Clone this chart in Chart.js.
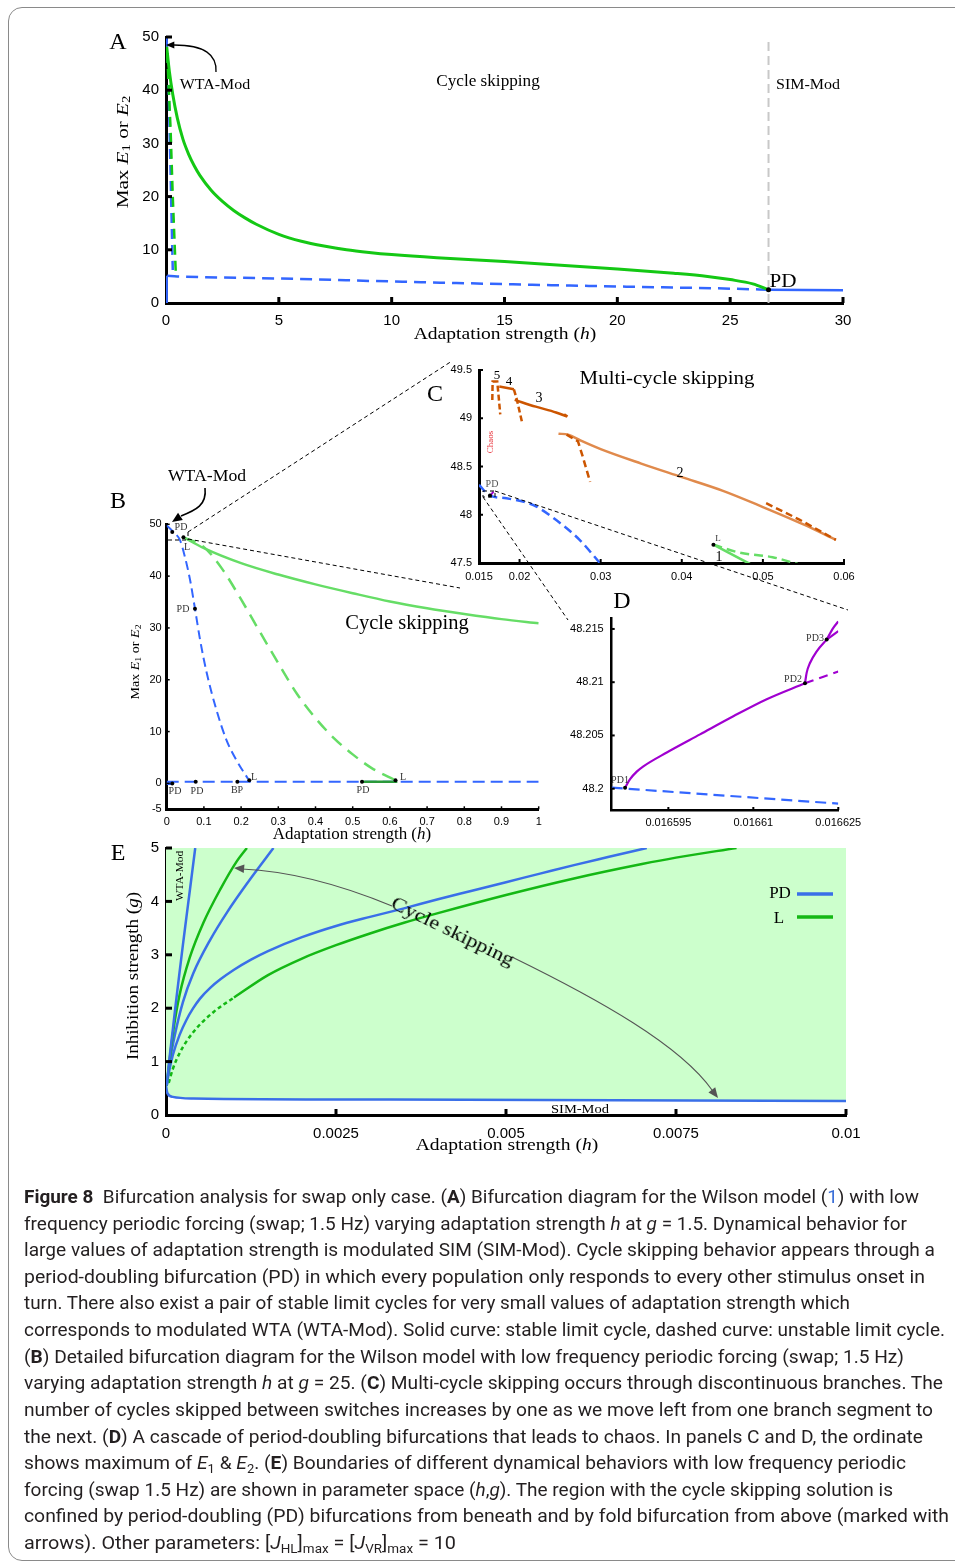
<!DOCTYPE html>
<html>
<head>
<meta charset="utf-8">
<script src="https://cdn.jsdelivr.net/npm/chart.js@4.4.0/dist/chart.umd.min.js"></script>
<style>
body { margin: 0; background: #fff; width: 955px; height: 1563px; overflow: hidden; position: relative; }
#frame { position: absolute; left: 8px; top: 7px; width: 975px; height: 1552px; border: 1px solid #8a8a8a; border-radius: 14px; }
canvas.panel { position: absolute; }
#overlay { position: absolute; left: 0; top: 0; pointer-events: none; }
.t { position: absolute; white-space: nowrap; line-height: 1; transform-origin: center center; }
.t sub { font-size: 70%; vertical-align: -0.25em; line-height: 0; }
.cap { position: absolute; left: 24px; height: 26px; line-height: 26px; white-space: nowrap; font-family: 'Liberation Sans Narrow', 'Roboto', sans-serif; font-size: 19px; color: #231f20; transform-origin: left center; }
.cap sub { font-size: 68%; vertical-align: -0.3em; line-height: 0; }
</style>
</head>
<body>
<div id="frame"></div>
<canvas id="chartA" class="panel" width="790" height="330" style="left:90px;top:20px"></canvas>
<canvas id="chartB" class="panel" width="470" height="335" style="left:100px;top:505px"></canvas>
<canvas id="chartC" class="panel" width="450" height="240" style="left:420px;top:350px"></canvas>
<canvas id="chartD" class="panel" width="330" height="230" style="left:545px;top:600px"></canvas>
<canvas id="chartE" class="panel" width="790" height="320" style="left:90px;top:830px"></canvas>
<canvas id="overlay" width="955" height="1563"></canvas>
<script>
// ---- panel A: h in [0,30], max E ----
const aTickX = [0, 5, 10, 15, 20, 25, 30];
const aTickY = [0, 10, 20, 30, 40, 50];
const aGreenSolid = [[0.03,48.2],[0.15,43.5],[0.3,39.2],[0.5,34.8],[0.75,30.8],[1,28.0],[1.25,25.8],[1.5,24.0],[2,21.2],[2.5,19.1],[3,17.4],[3.5,16.0],[4,14.8],[5,12.9],[6,11.6],[7,10.7],[8,10.0],[9,9.5],[10,9.1],[12,8.5],[15,7.8],[17.5,7.1],[20,6.4],[22.5,5.6],[24,5.0],[25,4.4],[26,3.6],[26.7,2.5]];
const aGreenDash = [[0.05,47],[0.2,33],[0.3,20],[0.44,4.9]];
const aBlueDashSteep = [[0.02,50],[0.1,44],[0.2,25],[0.3,6.2]];
const aBlueSolidAxis = [[0.03,0],[0.03,5.1]];
const aBlueDashLow = [[0.05,5.1],[0.5,5.0],[5,4.6],[10,4.05],[15,3.55],[20,3.1],[25,2.7],[26.7,2.5]];
const aBlueSolidRight = [[26.7,2.5],[30,2.4]];
const aGreyLine = [[26.7,0],[26.7,50]];
const aDots = [[26.7,2.5]];

// ---- panel B: h in [0,1] ----
const bTickX = [0, 0.1, 0.2, 0.3, 0.4, 0.5, 0.6, 0.7, 0.8, 0.9, 1];
const bTickY = [-5, 0, 10, 20, 30, 40, 50];
const bBlueDashMain = [[0,49.8],[0.018,48.5],[0.036,46.9],[0.049,43.7],[0.063,39.2],[0.076,33.7],[0.09,27.6],[0.108,21.2],[0.134,14.1],[0.161,8.3],[0.188,4.4],[0.219,0.85]];
const bBlueDashFlat = [[0,0.3],[1,0.3]];
const bBlueSolidStub = [[0,0],[0.015,0]];
const bGreenSolid = [[0.045,47.5],[0.1,45.4],[0.2,42.5],[0.3,40.3],[0.4,38.4],[0.5,36.7],[0.6,35.1],[0.7,33.8],[0.8,32.7],[0.9,31.7],[1,30.9]];
const bGreenDash = [[0.045,47.5],[0.1,45.6],[0.15,41.3],[0.2,35.5],[0.25,29.3],[0.3,23.2],[0.35,17.3],[0.4,12.6],[0.45,8.7],[0.5,5.6],[0.55,3.0],[0.615,0.6]];
const bGreenFlat = [[0.525,0.3],[0.62,0.3]];
const bDots = [[0.015,48.5],[0.045,47.5],[0.076,33.7],[0.015,0],[0.078,0.3],[0.19,0.3],[0.222,0.6],[0.525,0.3],[0.615,0.6]];

// ---- panel C: zoom of B ----
const cTickX = [0.015, 0.02, 0.03, 0.04, 0.05, 0.06];
const cTickY = [47.5, 48, 48.5, 49, 49.5];
const c5Dash = [[0.01664,49.19],[0.01668,49.38],[0.01725,49.38],[0.01745,49.2],[0.01762,49.04]];
const c4Solid = [[0.0175,49.33],[0.0193,49.30]];
const c4Dash = [[0.0193,49.30],[0.01965,49.2],[0.0203,48.96]];
const c3Solid = [[0.0194,49.19],[0.022,49.12],[0.0245,49.06],[0.0258,49.02]];
const c3Dash = [[0.0255,49.04],[0.0262,49.0]];
const c2Solid = [[0.0248,48.84],[0.026,48.83],[0.0275,48.77],[0.03,48.68],[0.035,48.53],[0.04,48.39],[0.045,48.25],[0.05,48.08],[0.055,47.9],[0.059,47.74]];
const c2DashA = [[0.0258,48.83],[0.0272,48.76],[0.0278,48.6],[0.0287,48.34]];
const c2DashB = [[0.0504,48.12],[0.0545,47.95],[0.059,47.74]];
const cBlueDash = [[0.015,48.31],[0.0163,48.2],[0.0184,48.17],[0.0217,48.1],[0.0246,47.94],[0.0274,47.74],[0.0299,47.5]];
const cGreenSolid = [[0.0439,47.69],[0.0484,47.49]];
const cGreenDash = [[0.0439,47.69],[0.047,47.61],[0.0512,47.56],[0.0543,47.49]];
const cPurple = [[0.0164,48.2],[0.0168,48.24]];
const cDots = [[0.01635,48.2],[0.0439,47.69]];

// ---- panel D: zoom of C ----
const dTickX = [0.016595, 0.01661, 0.016625];
const dTickXLabels = ['0.016595', '0.01661', '0.016625'];
const dTickY = [48.2, 48.205, 48.21, 48.215];
const dTickYLabels = ['48.2', '48.205', '48.21', '48.215'];
const dBlueDash = [[0.016585,48.2001],[0.016625,48.1986]];
const dPurpleSolid = [[0.01658736,48.2001],[0.01658824,48.2009],[0.01658942,48.2016],[0.01659059,48.2021],[0.01659472,48.2034],[0.01660059,48.2051],[0.01660647,48.2068],[0.01661236,48.2084],[0.01661912,48.2099]];
const dPurpleDash = [[0.01661912,48.2099],[0.016625,48.211]];
const dPurpleUp = [[0.01661912,48.2099],[0.01661942,48.2109],[0.01662,48.2118],[0.01662119,48.2129],[0.01662295,48.214]];
const dPurpleTop1 = [[0.01662295,48.214],[0.01662412,48.2151],[0.016625,48.2157]];
const dPurpleTop2 = [[0.01662295,48.214],[0.016625,48.2148]];
const dDots = [[0.01658736,48.2001],[0.01661912,48.2099],[0.01662295,48.214]];

// ---- panel E: (h, g) plane ----
const eTickX = [0, 0.0025, 0.005, 0.0075, 0.01];
const eTickXLabels = ['0', '0.0025', '0.005', '0.0075', '0.01'];
const eTickY = [0, 1, 2, 3, 4, 5];
const eBlueBottom = [[0,0.55],[0.00002,0.41],[0.0001,0.34],[0.0004,0.31],[0.0033,0.29],[0.01,0.26]];
const eBlueWTA = [[0.00001,0.55],[0.00005,1.05],[0.0001,1.6],[0.00015,2.15],[0.0002,2.68],[0.00025,3.2],[0.0003,3.7],[0.00035,4.2],[0.00043,5.0]];
const eGreenTop = [[0.00001,0.55],[0.00005,1.0],[0.00011,1.6],[0.0002,2.25],[0.00035,2.95],[0.00055,3.6],[0.0008,4.23],[0.00104,4.75],[0.00119,5.0]];
const eBlueMid = [[0.00001,0.55],[0.00005,0.95],[0.00013,1.5],[0.00025,2.12],[0.0004,2.65],[0.00065,3.28],[0.0009,3.8],[0.0012,4.35],[0.00158,5.0]];
const eBlueBig = [[0.00001,0.55],[0.00004,0.78],[0.0001,1.12],[0.0002,1.5],[0.0003,1.78],[0.0004,2.0],[0.0005,2.18],[0.00065,2.38],[0.0008,2.54],[0.001,2.72],[0.00125,2.91],[0.0015,3.07],[0.002,3.33],[0.0025,3.54],[0.003,3.71],[0.0035,3.87],[0.004,4.04],[0.0045,4.2],[0.005,4.36],[0.0055,4.52],[0.006,4.68],[0.0065,4.83],[0.00707,5.0]];
const eGreenBigDash = [[0.00004,0.6],[0.0001,0.86],[0.0002,1.16],[0.0004,1.55],[0.0007,1.93],[0.001,2.2]];
const eGreenBigSolid = [[0.001,2.2],[0.0015,2.62],[0.002,2.93],[0.0025,3.18],[0.003,3.4],[0.0035,3.6],[0.004,3.78],[0.005,4.12],[0.006,4.43],[0.007,4.7],[0.0075,4.82],[0.00839,5.0]];

const BLUE = '#3366ff';
const GREEN_A = '#14c814';
const GREEN_B = '#66dd66';
const ORANGE_D = '#cc5500';
const ORANGE_L = '#e08a4c';
const PURPLE = '#a000d0';
const E_BLUE = '#3a6fe8';
const E_GREEN = '#14b814';

function line(pts, color, width, dash, smooth) {
    return {
        data: pts.map(p => ({ x: p[0], y: p[1] })),
        showLine: true,
        borderColor: color,
        borderWidth: width,
        borderDash: dash || [],
        pointRadius: 0,
        cubicInterpolationMode: smooth ? 'monotone' : 'default',
        tension: 0,
        fill: false
    };
}

function dots(pts, r) {
    return {
        data: pts.map(p => ({ x: p[0], y: p[1] })),
        showLine: false,
        pointRadius: r || 2.2,
        pointBackgroundColor: '#000',
        pointBorderWidth: 0
    };
}

// short tick marks drawn on the inside of the axes
const innerTicks = {
    id: 'innerTicks',
    afterDraw(chart, args, opts) {
        const { ctx, chartArea: a, scales: { x, y } } = chart;
        ctx.save();
        ctx.strokeStyle = '#000';
        ctx.lineWidth = opts.width;
        x.ticks.forEach(t => {
            if (t.value === x.min) return;
            const px = x.getPixelForValue(t.value);
            ctx.beginPath(); ctx.moveTo(px, a.bottom); ctx.lineTo(px, a.bottom - opts.len); ctx.stroke();
        });
        y.ticks.forEach(t => {
            if (t.value === y.min) return;
            const py = y.getPixelForValue(t.value);
            ctx.beginPath(); ctx.moveTo(a.left, py); ctx.lineTo(a.left + opts.len, py); ctx.stroke();
        });
        ctx.restore();
    }
};

function panelChart(id, datasets, o) {
    const fmt = (labels) => (v, i) => labels ? labels[i] : String(v);
    return new Chart(document.getElementById(id), {
        type: 'scatter',
        data: { datasets },
        options: {
            responsive: false,
            animation: false,
            devicePixelRatio: 1,
            layout: { padding: { left: 0, top: o.top, right: o.right, bottom: 0 } },
            plugins: {
                legend: { display: false },
                tooltip: { enabled: false },
                innerTicks: { len: o.tickLen, width: o.tickW }
            },
            scales: {
                x: {
                    type: 'linear', min: o.xMin, max: o.xMax,
                    grid: { drawOnChartArea: false, drawTicks: false },
                    border: { color: '#000', width: o.axisW },
                    ticks: { font: { family: 'Liberation Sans', size: o.font }, color: '#000', padding: o.xPad, maxRotation: 0, autoSkip: false, callback: fmt(o.xLabels) },
                    afterBuildTicks: s => { s.ticks = o.xTicks.map(v => ({ value: v })); },
                    afterFit: s => { s.height = o.xH; s.paddingLeft = 0; s.paddingRight = 0; }
                },
                y: {
                    type: 'linear', min: o.yMin, max: o.yMax,
                    grid: { drawOnChartArea: false, drawTicks: false },
                    border: { color: '#000', width: o.axisW },
                    ticks: { font: { family: 'Liberation Sans', size: o.font }, color: '#000', padding: o.yPad, autoSkip: false, callback: fmt(o.yLabels) },
                    afterBuildTicks: s => { s.ticks = o.yTicks.map(v => ({ value: v })); },
                    afterFit: s => { s.width = o.yW; s.paddingTop = 0; s.paddingBottom = 0; }
                }
            }
        },
        plugins: [innerTicks]
    });
}

panelChart('chartA', [
    dots(aDots, 2.5),
    line(aGreenSolid, GREEN_A, 3, null, true),
    line(aGreenDash, GREEN_A, 2.5, [10, 6]),
    line(aBlueDashSteep, BLUE, 2.5, [10, 6]),
    line(aBlueSolidAxis, BLUE, 2.5),
    line(aBlueDashLow, BLUE, 2.5, [12, 7], true),
    line(aBlueSolidRight, BLUE, 2.5),
    line(aGreyLine, '#c8c8c8', 2, [9, 5])
], { top: 17, right: 37, xH: 47, yW: 76, xMin: 0, xMax: 30, yMin: 0, yMax: 50, xTicks: aTickX, yTicks: aTickY,
     font: 15, xPad: 9, yPad: 7, axisW: 3, tickLen: 6, tickW: 3 });

panelChart('chartB', [
    dots(bDots, 2),
    line(bGreenFlat, '#2a9a3a', 2.5),
    line(bGreenSolid, GREEN_B, 2.5, null, true),
    line(bGreenDash, GREEN_B, 2.5, [13, 8], true),
    line(bBlueDashMain, BLUE, 2, [9, 5], true),
    line(bBlueSolidStub, BLUE, 3),
    line(bBlueDashFlat, BLUE, 2, [12, 6])
], { top: 19.3, right: 31.3, xH: 30.7, yW: 66.7, xMin: 0, xMax: 1, yMin: -5, yMax: 50, xTicks: bTickX, yTicks: bTickY,
     font: 11, xPad: 6, yPad: 5, axisW: 3, tickLen: 3, tickW: 1.5 });

panelChart('chartC', [
    dots(cDots, 2),
    line(cPurple, PURPLE, 2),
    line(c5Dash, ORANGE_D, 2.5, [6, 3]),
    line(c4Solid, ORANGE_D, 2.5),
    line(c4Dash, ORANGE_D, 2.5, [6, 3]),
    line(c3Solid, ORANGE_D, 2.5, null, true),
    line(c3Dash, ORANGE_D, 2.5, [4, 3]),
    line(c2DashA, ORANGE_D, 2.5, [7, 4]),
    line(c2DashB, ORANGE_D, 2.5, [7, 4]),
    line(c2Solid, ORANGE_L, 2.5, null, true),
    line(cGreenSolid, GREEN_B, 2.5),
    line(cGreenDash, GREEN_B, 2.5, [9, 5], true),
    line(cBlueDash, BLUE, 2.5, [9, 5], true)
], { top: 20, right: 26, xH: 27, yW: 59, xMin: 0.015, xMax: 0.06, yMin: 47.5, yMax: 49.5, xTicks: cTickX, yTicks: cTickY,
     font: 11, xPad: 7, yPad: 7, axisW: 3, tickLen: 4, tickW: 2 });

panelChart('chartD', [
    dots(dDots, 2),
    line(dPurpleSolid, PURPLE, 2.2, null, true),
    line(dPurpleDash, PURPLE, 2.2, [9, 6]),
    line(dPurpleUp, PURPLE, 2.2, null, true),
    line(dPurpleTop1, PURPLE, 2.2, null, true),
    line(dPurpleTop2, PURPLE, 2.2),
    line(dBlueDash, BLUE, 2.2, [11, 6])
], { top: 18.3, right: 36.7, xH: 20, yW: 66.7, xMin: 0.016585, xMax: 0.016625, yMin: 48.198, yMax: 48.216,
     xTicks: dTickX, xLabels: dTickXLabels, yTicks: dTickY, yLabels: dTickYLabels,
     font: 11, xPad: 6, yPad: 8, axisW: 2.5, tickLen: 3, tickW: 2 });

const eFill = line(eBlueBottom, E_BLUE, 2.5, null, true);
eFill.fill = 'end';
eFill.backgroundColor = '#ccffcc';
panelChart('chartE', [
    line(eBlueWTA, E_BLUE, 2.5, null, true),
    line(eGreenTop, E_GREEN, 2.5, null, true),
    line(eBlueMid, E_BLUE, 2.5, null, true),
    line(eBlueBig, E_BLUE, 2.5, null, true),
    line(eGreenBigDash, E_GREEN, 2.5, [4, 3], true),
    line(eGreenBigSolid, E_GREEN, 2.5, null, true),
    eFill
], { top: 18, right: 34, xH: 35, yW: 76, xMin: 0, xMax: 0.01, yMin: 0, yMax: 5,
     xTicks: eTickX, xLabels: eTickXLabels, yTicks: eTickY,
     font: 15, xPad: 10, yPad: 7, axisW: 3, tickLen: 6, tickW: 3 });

// ---- annotations: zoom connectors, arrows, legend of E ----
const ov = document.getElementById('overlay').getContext('2d');

function arrowHead(ctx, fx, fy, tx, ty, size, color) {
    const ang = Math.atan2(ty - fy, tx - fx);
    ctx.save();
    ctx.fillStyle = color;
    ctx.beginPath();
    ctx.moveTo(tx, ty);
    ctx.lineTo(tx - size * Math.cos(ang - 0.4), ty - size * Math.sin(ang - 0.4));
    ctx.lineTo(tx - size * Math.cos(ang + 0.4), ty - size * Math.sin(ang + 0.4));
    ctx.closePath();
    ctx.fill();
    ctx.restore();
}

ov.save();
ov.strokeStyle = '#000';
ov.lineWidth = 1;
ov.setLineDash([4, 3]);
ov.beginPath();
ov.moveTo(188, 532); ov.lineTo(452, 361);
ov.moveTo(188, 539); ov.lineTo(460, 588);
ov.moveTo(168, 540); ov.lineTo(188, 540);
ov.moveTo(188, 532); ov.lineTo(188, 540);
ov.moveTo(483, 497); ov.lineTo(568, 620);
ov.moveTo(495, 491); ov.lineTo(848, 610);
ov.stroke();
ov.strokeRect(483, 491, 12, 6);
ov.restore();

// arrow in A
ov.save();
ov.strokeStyle = '#000';
ov.lineWidth = 1.3;
ov.beginPath();
ov.moveTo(216, 72);
ov.bezierCurveTo(217, 55, 205, 45, 174, 45);
ov.stroke();
arrowHead(ov, 176, 45, 166, 45, 9, '#000');
// arrow in B
ov.lineWidth = 1.6;
ov.beginPath();
ov.moveTo(205, 488);
ov.bezierCurveTo(207, 505, 196, 510, 181, 516);
ov.stroke();
arrowHead(ov, 184, 514, 172, 522, 11, '#000');
// arrows in E
ov.strokeStyle = '#555';
ov.lineWidth = 1.1;
ov.beginPath();
ov.moveTo(392, 906);
ov.quadraticCurveTo(310, 872, 242, 869);
ov.stroke();
arrowHead(ov, 246, 869, 234, 868, 11, '#555');
ov.beginPath();
ov.moveTo(512, 957);
ov.bezierCurveTo(600, 1000, 680, 1045, 712, 1090);
ov.stroke();
arrowHead(ov, 708, 1085, 718, 1098, 11, '#555');
// legend of E
ov.lineWidth = 3.5;
ov.strokeStyle = E_BLUE;
ov.beginPath(); ov.moveTo(797, 894); ov.lineTo(833, 894); ov.stroke();
ov.strokeStyle = E_GREEN;
ov.beginPath(); ov.moveTo(797, 917); ov.lineTo(833, 917); ov.stroke();
ov.restore();

// ---- text ----
function label(html, x, y, size, opts) {
    opts = opts || {};
    const d = document.createElement('div');
    d.className = 't';
    d.innerHTML = html;
    d.style.fontSize = size + 'px';
    d.style.left = x + 'px';
    d.style.top = y + 'px';
    d.style.fontFamily = opts.family || "'Liberation Serif', serif";
    d.style.color = opts.color || '#000';
    document.body.appendChild(d);
    const sx = opts.w ? opts.w / d.offsetWidth : 1;
    d.style.transform = `translate(-50%,-50%) rotate(${opts.rot || 0}deg) scaleX(${sx})`;
}

const SMALL = { color: '#333' };
// A
label('A', 118, 41, 24);
label('WTA-Mod', 215, 84, 15, { w: 70 });
label('Cycle skipping', 488, 81, 16, { w: 103 });
label('SIM-Mod', 808, 84, 15, { w: 64 });
label('PD', 783, 281, 18, { w: 27 });
label('Adaptation strength (<i>h</i>)', 505, 333, 17, { w: 183 });
label('Max <i>E</i><sub>1</sub> or <i>E</i><sub>2</sub>', 122, 152, 17, { rot: -90, w: 113 });
// B
label('B', 118, 500, 24);
label('WTA-Mod', 207, 475, 17, { w: 78 });
label('PD', 181, 527, 10, SMALL);
label('L', 187, 547, 10, SMALL);
label('PD', 183, 609, 10, SMALL);
label('Cycle skipping', 407, 622, 20, { w: 124 });
label('PD', 175, 791, 10, SMALL);
label('PD', 197, 791, 10, SMALL);
label('BP', 237, 790, 10, SMALL);
label('L', 254, 777, 10, SMALL);
label('PD', 363, 790, 10, SMALL);
label('L', 403, 777, 10, SMALL);
label('Adaptation strength (<i>h</i>)', 352, 834, 16, { w: 158 });
label('Max <i>E</i><sub>1</sub> or <i>E</i><sub>2</sub>', 135, 662, 12, { rot: -90, w: 75 });
// C
label('C', 435, 393, 24);
label('Multi-cycle skipping', 667, 377, 19, { w: 175 });
label('5', 497, 374, 13);
label('4', 509, 380, 13);
label('3', 539, 398, 14);
label('2', 680, 473, 14);
label('1', 719, 557, 14);
label('L', 718, 538, 9, SMALL);
label('PD', 492, 484, 10, { color: '#555' });
label('Chaos', 490, 442, 9, { color: '#e8343c', rot: -90 });
// D
label('D', 622, 600, 24);
label('PD1', 620, 780, 10, SMALL);
label('PD2', 793, 679, 10, SMALL);
label('PD3', 815, 638, 10, SMALL);
// E
label('E', 118, 852, 24);
label('WTA-Mod', 180, 876, 10, { rot: -90, w: 50 });
label('Cycle skipping', 453, 931, 19, { rot: 26, w: 135 });
label('SIM-Mod', 580, 1109, 12, { w: 58 });
label('PD', 780, 892, 17);
label('L', 779, 917, 17);
label('Adaptation strength (<i>h</i>)', 507, 1144, 17, { w: 183 });
label('Inhibition strength (<i>g</i>)', 132, 976, 17, { rot: -90, w: 168 });

// ---- caption ----
const captionLines = [
    '<b>Figure 8</b>&nbsp; Bifurcation analysis for swap only case. (<b>A</b>) Bifurcation diagram for the Wilson model (<span style="color:#3b6fd8">1</span>) with low',
    'frequency periodic forcing (swap; 1.5 Hz) varying adaptation strength <i>h</i> at <i>g</i> = 1.5. Dynamical behavior for',
    'large values of adaptation strength is modulated SIM (SIM-Mod). Cycle skipping behavior appears through a',
    'period-doubling bifurcation (PD) in which every population only responds to every other stimulus onset in',
    'turn. There also exist a pair of stable limit cycles for very small values of adaptation strength which',
    'corresponds to modulated WTA (WTA-Mod). Solid curve: stable limit cycle, dashed curve: unstable limit cycle.',
    '(<b>B</b>) Detailed bifurcation diagram for the Wilson model with low frequency periodic forcing (swap; 1.5 Hz)',
    'varying adaptation strength <i>h</i> at <i>g</i> = 25. (<b>C</b>) Multi-cycle skipping occurs through discontinuous branches. The',
    'number of cycles skipped between switches increases by one as we move left from one branch segment to',
    'the next. (<b>D</b>) A cascade of period-doubling bifurcations that leads to chaos. In panels C and D, the ordinate',
    'shows maximum of <i>E</i><sub>1</sub> &amp; <i>E</i><sub>2</sub>. (<b>E</b>) Boundaries of different dynamical behaviors with low frequency periodic',
    'forcing (swap 1.5 Hz) are shown in parameter space (<i>h</i>,<i>g</i>). The region with the cycle skipping solution is',
    'confined by period-doubling (PD) bifurcations from beneath and by fold bifurcation from above (marked with',
    'arrows). Other parameters: [<i>J</i><sub>HL</sub>]<sub>max</sub> = [<i>J</i><sub>VR</sub>]<sub>max</sub> = 10'
];
const captionRight = [919, 907, 935, 925, 850, 945, 904, 943, 933, 923, 906, 893, 949, 456];

captionLines.forEach((html, i) => {
    const d = document.createElement('div');
    d.className = 'cap';
    d.innerHTML = html;
    d.style.top = (1184 + i * 26.62) + 'px';
    document.body.appendChild(d);
    const w = d.getBoundingClientRect().width;
    d.style.transform = `scaleX(${(captionRight[i] - 24) / w})`;
});
</script>
</body>
</html>
